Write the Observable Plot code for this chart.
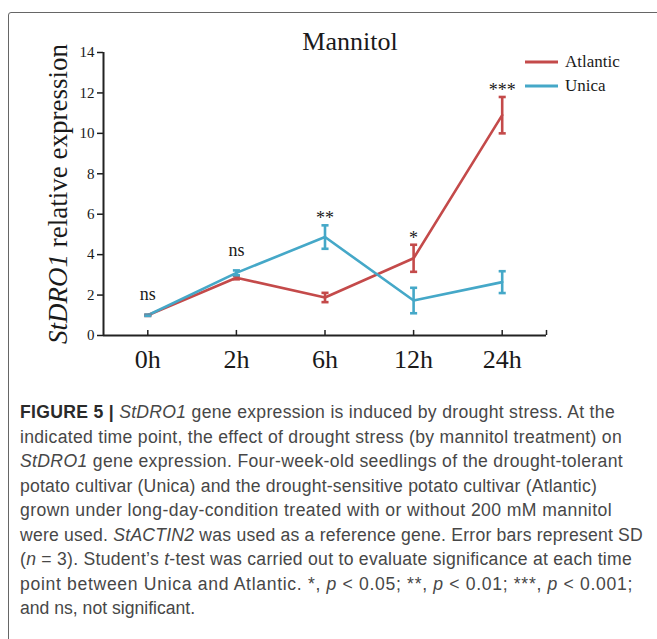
<!DOCTYPE html>
<html><head><meta charset="utf-8">
<script src="https://cdn.jsdelivr.net/npm/d3@7"></script>
<script src="https://cdn.jsdelivr.net/npm/@observablehq/plot@0.6"></script>
<style>
html,body{margin:0;padding:0;background:#fff;}
body{width:657px;height:639px;position:relative;overflow:hidden;}
#box{position:absolute;left:8px;top:12px;width:720px;height:700px;border:1.5px solid #666;border-radius:3px;box-sizing:border-box;}
#chart{position:absolute;left:0;top:0;}
.serif{font-family:"Liberation Serif","Times New Roman",serif;color:#1a1a1a;}
#title{position:absolute;left:350px;top:42px;transform:translate(-50%,-50%);font-size:26px;white-space:nowrap;}
#ylabel{position:absolute;left:58px;top:194px;transform:translate(-50%,-50%) rotate(-90deg);font-size:27px;white-space:nowrap;}
.leg{position:absolute;left:525px;height:20px;display:flex;align-items:center;font-size:17px;}
.leg svg{margin-right:7px;}
#caption{position:absolute;left:20px;top:400px;font-family:"Liberation Sans",Arial,sans-serif;font-size:17.6px;line-height:24.5px;color:#474747;}
#caption div{white-space:nowrap;}
#caption b{color:#2a2a2a;}
</style>
</head><body>
<div id="box"></div>
<div id="chart"></div>
<div id="title" class="serif">Mannitol</div>
<div id="ylabel" class="serif"><i>StDRO1</i> relative expression</div>
<div id="legend" class="serif"></div>
<div id="caption">
<div><span><b>FIGURE 5 |</b> <i>StDRO1</i> gene expression is induced by drought stress. At the</span></div>
<div><span>indicated time point, the effect of drought stress (by mannitol treatment) on</span></div>
<div><span><i>StDRO1</i> gene expression. Four-week-old seedlings of the drought-tolerant</span></div>
<div><span>potato cultivar (Unica) and the drought-sensitive potato cultivar (Atlantic)</span></div>
<div><span>grown under long-day-condition treated with or without 200 mM mannitol</span></div>
<div><span>were used. <i>StACTIN2</i> was used as a reference gene. Error bars represent SD</span></div>
<div><span>(<i>n</i> = 3). Student’s <i>t</i>-test was carried out to evaluate significance at each time</span></div>
<div><span>point between Unica and Atlantic. *, <i>p</i> &lt; 0.05; **, <i>p</i> &lt; 0.01; ***, <i>p</i> &lt; 0.001;</span></div>
<div><span>and ns, not significant.</span></div>
</div>
<script>
const categories = ["0h", "2h", "6h", "12h", "24h"];
const series = ["Atlantic", "Unica"];
const colors = ["#c44a4a", "#45a8c8"];
const atlanticMean = [1.0, 2.86, 1.88, 3.82, 10.9];
const atlanticSD   = [0.03, 0.08, 0.23, 0.67, 0.9];
const unicaMean    = [1.0, 3.1, 4.87, 1.73, 2.64];
const unicaSD      = [0.03, 0.12, 0.58, 0.63, 0.54];
const significance = ["ns", "ns", "**", "*", "***"];
const yTicks = [0, 2, 4, 6, 8, 10, 12, 14];

const means = [atlanticMean, unicaMean];
const sds = [atlanticSD, unicaSD];
const rows = [];
series.forEach((s, k) => categories.forEach((c, i) => {
  rows.push({series: s, i, cat: c, mean: means[k][i], lo: means[k][i] - sds[k][i], hi: means[k][i] + sds[k][i]});
}));
const annot = categories.map((c, i) => ({
  i, label: significance[i],
  top: Math.max(atlanticMean[i] + atlanticSD[i], unicaMean[i] + unicaSD[i])
}));
const idx = categories.map((_, i) => i);
const capW = 0.04;
const serif = '"Liberation Serif","Times New Roman",serif';

const chart = Plot.plot({
  width: 657, height: 390,
  marginLeft: 103, marginRight: 111, marginTop: 52, marginBottom: 55,
  style: {fontFamily: serif, color: "#1a1a1a", background: "transparent", overflow: "visible"},
  x: {domain: [-0.5, categories.length - 0.5]},
  y: {domain: [0, 14]},
  color: {domain: series, range: colors},
  marks: [
    Plot.axisY(yTicks, {tickSize: 6, tickPadding: 3, fontSize: 15, label: null, strokeWidth: 1.5}),
    Plot.axisX(idx, {tickSize: 0, tickPadding: 14, fontSize: 26, label: null, tickFormat: i => categories[i]}),
    Plot.ruleX(idx, {y1: 0, y2: 0.25, stroke: "#222", strokeWidth: 1.5}),
    Plot.ruleX([categories.length - 0.5], {y1: 0, y2: 0.25, stroke: "#222", strokeWidth: 1.5}),
    Plot.ruleY([0], {stroke: "#222", strokeWidth: 2}),
    Plot.ruleX([-0.5], {stroke: "#222", strokeWidth: 2}),
    Plot.line(rows, {x: "i", y: "mean", z: "series", stroke: "series", strokeWidth: 2.6}),
    Plot.ruleX(rows, {x: "i", y1: "lo", y2: "hi", stroke: "series", strokeWidth: 2.6}),
    Plot.link(rows, {x1: d => d.i - capW, x2: d => d.i + capW, y1: "hi", y2: "hi", stroke: "series", strokeWidth: 2.6}),
    Plot.link(rows, {x1: d => d.i - capW, x2: d => d.i + capW, y1: "lo", y2: "lo", stroke: "series", strokeWidth: 2.6}),
    Plot.text(annot.filter(d => d.label === "ns"), {x: "i", y: "top", text: "label", fontSize: 18, dy: -20, fill: "#1a1a1a"}),
    Plot.text(annot.filter(d => d.label !== "ns"), {x: "i", y: "top", text: "label", fontSize: 18, dy: -7, fill: "#1a1a1a"})
  ]
});
document.getElementById("chart").appendChild(chart);

const legend = document.getElementById("legend");
const legTops = [52, 76];
series.forEach((s, k) => {
  const d = document.createElement("div");
  d.className = "leg";
  d.style.top = legTops[k] + "px";
  d.innerHTML = `<svg width="33" height="6"><line x1="0" x2="33" y1="3" y2="3" stroke="${colors[k]}" stroke-width="2.8"/></svg><span>${s}</span>`;
  legend.appendChild(d);
});

// fit caption lines to the reference's ragged right edges
const lineEnds = [615, 622, 623, 597, 612, 643, 632, 633, null];
function fitCaption() {
  const spans = document.querySelectorAll("#caption span");
  spans.forEach((sp, k) => {
    if (lineEnds[k] == null) return;
    sp.style.letterSpacing = "0px";
    const w = sp.getBoundingClientRect().width;
    const n = sp.textContent.length;
    sp.style.letterSpacing = ((lineEnds[k] - 20 - w) / n) + "px";
  });
}
fitCaption();
if (document.fonts && document.fonts.ready) document.fonts.ready.then(fitCaption);
</script>
</body></html>
